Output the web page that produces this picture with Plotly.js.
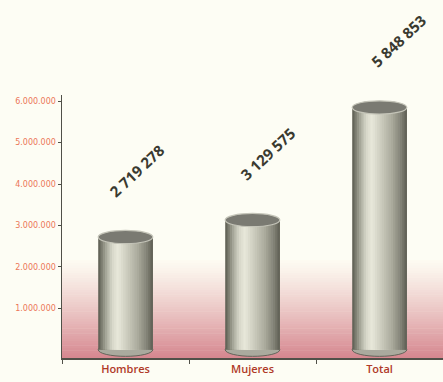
<!DOCTYPE html>
<html><head><meta charset="utf-8">
<script src="https://cdn.plot.ly/plotly-3.0.1.min.js"></script>
<style>html,body{margin:0;padding:0;background:#fdfdf4;}#chart{width:443px;height:382px;}</style>
</head><body><div id="chart"></div>
<script>
// ---- data ----
const categories = ["Hombres", "Mujeres", "Total"];
const values = [2719278, 3129575, 5848853];
const yTickValues = [1000000, 2000000, 3000000, 4000000, 5000000, 6000000];

// ---- styling helpers ----
const BAR_W = 0.43;
const NSTRIPES = 24;
const shadeStops = [
  [0.00, [88, 89, 78]],
  [0.10, [145, 146, 132]],
  [0.25, [214, 214, 200]],
  [0.36, [232, 232, 218]],
  [0.50, [208, 208, 194]],
  [0.72, [172, 172, 158]],
  [0.90, [128, 128, 116]],
  [1.00, [92, 92, 82]]
];
function shade(t) {
  for (let i = 1; i < shadeStops.length; i++) {
    const [t1, c1] = shadeStops[i];
    const [t0, c0] = shadeStops[i - 1];
    if (t <= t1) {
      const f = (t - t0) / (t1 - t0);
      const c = c0.map((v, k) => Math.round(v + (c1[k] - v) * f));
      return `rgb(${c[0]},${c[1]},${c[2]})`;
    }
  }
  return "rgb(92,92,82)";
}

const traces = [];
for (let i = 0; i < NSTRIPES; i++) {
  const w = BAR_W / NSTRIPES;
  traces.push({
    type: "bar",
    x: categories,
    y: values,
    width: BAR_W - i * w,
    offset: -BAR_W / 2 + i * w,
    marker: { color: shade((i + 0.5) / NSTRIPES), line: { width: 0 } },
    hoverinfo: "skip",
    showlegend: false
  });
}

const shapes = [];
// pink floor gradient (paper coords)
const GN = 40, GTOP = 0.37;
for (let i = 0; i < GN; i++) {
  const t = i / GN; // 0 bottom -> 1 top
  const a = Math.pow(1 - t, 1.2);
  const r = Math.round(253 + (214 - 253) * a);
  const g = Math.round(251 + (136 - 251) * a);
  const b = Math.round(242 + (144 - 242) * a);
  shapes.push({
    type: "rect", xref: "paper", yref: "paper", layer: "below",
    x0: 0, x1: 1, y0: GTOP * t, y1: GTOP * (t + 1 / GN) + 0.002,
    fillcolor: `rgb(${r},${g},${b})`, line: { width: 0 }
  });
}
const EH = 160000; // half height of ellipse in data units
values.forEach((v, i) => {
  // bottom cap
  shapes.push({
    type: "circle", xref: "x", yref: "y", layer: "below",
    x0: i - BAR_W / 2, x1: i + BAR_W / 2, y0: -EH, y1: EH,
    fillcolor: "rgb(170,170,158)", line: { color: "rgb(100,100,90)", width: 1 }
  });
  // top cap
  shapes.push({
    type: "circle", xref: "x", yref: "y", layer: "above",
    x0: i - BAR_W / 2, x1: i + BAR_W / 2, y0: v - EH, y1: v + EH,
    fillcolor: "rgb(122,122,114)", line: { color: "rgb(196,196,184)", width: 1.2 }
  });
});

function fmtSpace(n) {
  return String(n).replace(/\B(?=(\d{3})+(?!\d))/g, " ");
}
const annotations = values.map((v, i) => ({
  x: categories[i], y: v, xref: "x", yref: "y",
  text: fmtSpace(v), showarrow: false, textangle: -43,
  xshift: 11 + 4 * i, yshift: 66,
  font: { family: "Open Sans, DejaVu Sans, sans-serif", size: 15, color: "#3a3a30", weight: 700 }
}));

const layout = {
  width: 443, height: 382,
  margin: { l: 62, r: 0, t: 95, b: 24 },
  paper_bgcolor: "#fdfdf4",
  plot_bgcolor: "rgba(0,0,0,0)",
  barmode: "overlay",
  separators: ",.",
  showlegend: false,
  xaxis: {
    type: "category",
    range: [-0.5, 2.5],
    showline: true, linecolor: "#505048", linewidth: 1.5,
    ticks: "outside", tickson: "boundaries", ticklen: 4, tickcolor: "#505048",
    showgrid: false, zeroline: false,
    tickfont: { family: "Open Sans, DejaVu Sans, sans-serif", size: 11, color: "#b03a28", weight: 600 }
  },
  yaxis: {
    range: [-200000, 6150000],
    tickvals: yTickValues,
    tickformat: ",d",
    showline: true, linecolor: "#505048", linewidth: 1.5,
    ticks: "outside", ticklen: 3, tickcolor: "#505048",
    showgrid: false, zeroline: false,
    tickfont: { family: "DejaVu Sans, sans-serif", size: 8, color: "#ec7658" }
  },
  shapes: shapes,
  annotations: annotations
};

Plotly.newPlot("chart", traces, layout, { displayModeBar: false, staticPlot: true });
</script>
</body></html>
